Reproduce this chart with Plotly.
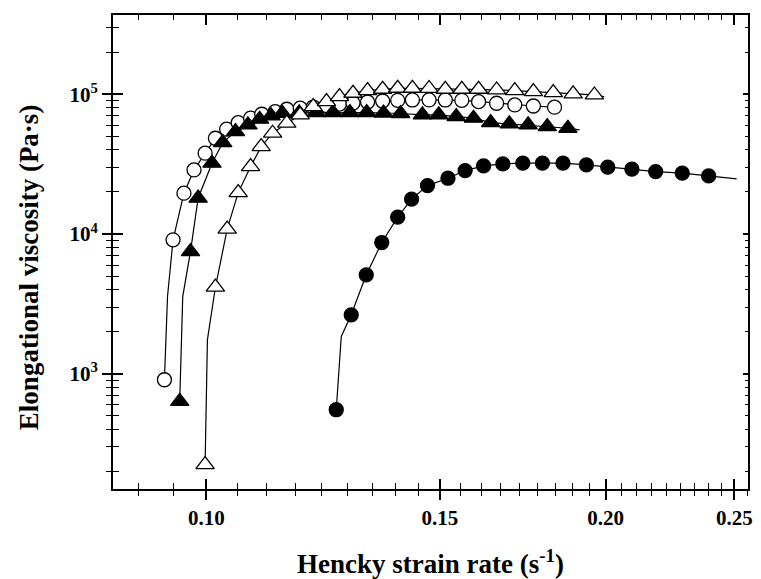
import numpy as np
import plotly.graph_objects as go

# ---------------- data ----------------
# open circles
oc_x = [0.0930, 0.0944, 0.0962, 0.0979, 0.0998, 0.1016, 0.1036, 0.1057, 0.1080, 0.1101,
        0.1127, 0.1150, 0.1177, 0.1204, 0.1232, 0.1260, 0.1290, 0.1323, 0.1358, 0.1394,
        0.1430, 0.1472, 0.1514, 0.1558, 0.1604, 0.1655, 0.1708, 0.1764, 0.1830]
oc_y = [906, 9080, 19600, 28750, 37870, 48450, 56240, 62630, 67390, 71940,
        75080, 78100, 79430, 81000, 83000, 85000, 86500, 88000, 89500, 90500,
        91000, 91050, 91000, 90500, 88540, 86240, 83850, 82400, 80760]
oc_line_extra_x = [0.0935]
oc_line_extra_y = [3570]

# filled triangles
ft_x = [0.0955, 0.0973, 0.0986, 0.1010, 0.1029, 0.1052, 0.1075, 0.1097, 0.1119, 0.1141,
        0.1175, 0.1210, 0.1246, 0.1283, 0.1321, 0.1360, 0.1401, 0.1455, 0.1497, 0.1543,
        0.1590, 0.1638, 0.1692, 0.1748, 0.1807, 0.1873]
ft_y = [634, 7490, 18040, 32110, 45070, 54030, 60320, 66290, 69960, 73100,
        73500, 73800, 74000, 74000, 73800, 73400, 72800, 71120, 71120, 69160,
        67390, 62630, 61310, 60320, 58650, 57120]
ft_line_extra_x = [0.0960, 0.1911]
ft_line_extra_y = [3570, 55560]

# open triangles
ot_x = [0.0998, 0.1016, 0.1037, 0.1057, 0.1080, 0.1100, 0.1122, 0.1150, 0.1177, 0.1204,
        0.1232, 0.1260, 0.1290, 0.1323, 0.1358, 0.1394, 0.1430, 0.1472, 0.1514, 0.1558,
        0.1604, 0.1655, 0.1708, 0.1764, 0.1826, 0.1890, 0.1961]
ot_y = [224, 4169, 10830, 19770, 30360, 42190, 52620, 62040, 71120, 81530,
        88540, 96120, 101670, 106100, 108600, 110400, 110400, 110000, 108600, 108600,
        108600, 107300, 106100, 104400, 102700, 100500, 98850]
ot_line_extra_x = [0.1002, 0.1995]
ot_line_extra_y = [1750, 96000]

# filled circles
fc_x = [0.1253, 0.1286, 0.1320, 0.1356, 0.1394, 0.1428, 0.1468, 0.1521, 0.1567, 0.1618,
        0.1673, 0.1732, 0.1792, 0.1857, 0.1934, 0.2007, 0.2093, 0.2181, 0.2284, 0.2391]
fc_y = [553, 2642, 5105, 8690, 13200, 17770, 22200, 25070, 28430, 30720,
        31740, 32110, 32110, 32110, 31220, 30060, 29080, 27950, 27230, 26040]
fc_line_extra_x = [0.1264, 0.2510]
fc_line_extra_y = [1848, 24790]

x_major = [0.10, 0.15, 0.20, 0.25]
x_major_text = ["0.10", "0.15", "0.20", "0.25"]
y_major = [1e3, 1e4, 1e5]
y_major_text = ["10<sup>3</sup>", "10<sup>4</sup>", "10<sup>5</sup>"]

X_RANGE = [0.08506, 0.2560]
Y_RANGE = [10 ** 2.1755, 10 ** 5.567]

# minor ticks: 8 minor ticks between x majors; 2..9 per decade on y
x_minor = []
step = 0.05 / 9
for k in range(-3, 30):
    v = 0.10 + k * step
    if X_RANGE[0] <= v <= X_RANGE[1] and all(abs(v - m) > 1e-9 for m in x_major):
        x_minor.append(v)
y_minor = [m * 10 ** e for e in range(2, 6) for m in range(2, 10)
           if Y_RANGE[0] <= m * 10 ** e <= Y_RANGE[1]]

FONT = "Liberation Serif"


def merged(xs, ys, ex, ey):
    pts = sorted(zip(list(xs) + list(ex), list(ys) + list(ey)))
    return [p[0] for p in pts], [p[1] for p in pts]


fig = go.Figure()

series = [
    (oc_x, oc_y, oc_line_extra_x, oc_line_extra_y, "circle", "white"),
    (ft_x, ft_y, ft_line_extra_x, ft_line_extra_y, "triangle-up", "black"),
    (fc_x, fc_y, fc_line_extra_x, fc_line_extra_y, "circle", "black"),
    (ot_x, ot_y, ot_line_extra_x, ot_line_extra_y, "triangle-up", "white"),
]

# lines first
for xs, ys, ex, ey, sym, fill in series:
    lx, ly = merged(xs, ys, ex, ey)
    fig.add_trace(go.Scatter(x=lx, y=ly, mode="lines",
                             line=dict(color="black", width=1.2),
                             hoverinfo="skip", showlegend=False))
# markers on top
for xs, ys, ex, ey, sym, fill in series:
    size = 14 if sym == "circle" else 16
    fig.add_trace(go.Scatter(x=xs, y=ys, mode="markers",
                             marker=dict(symbol=sym, size=size, color=fill,
                                         line=dict(color="black", width=1.3)),
                             showlegend=False))

# invisible traces that create the overlay axes (extra tick sets)
fig.add_trace(go.Scatter(x=[0.1], y=[1e3], xaxis="x2", yaxis="y2", mode="markers",
                         marker=dict(opacity=0), hoverinfo="skip", showlegend=False))
fig.add_trace(go.Scatter(x=[0.1], y=[1e3], xaxis="x3", yaxis="y3", mode="markers",
                         marker=dict(opacity=0), hoverinfo="skip", showlegend=False))

xr = [np.log10(X_RANGE[0]), np.log10(X_RANGE[1])]
yr = [np.log10(Y_RANGE[0]), np.log10(Y_RANGE[1])]

tickfont = dict(family=FONT, size=21, color="black", weight="bold")

common_x = dict(type="log", range=xr, tickmode="array", tickvals=x_major,
                showgrid=False, zeroline=False, tickcolor="black", tickwidth=1.5)
common_y = dict(type="log", range=yr, tickmode="array", tickvals=y_major,
                showgrid=False, zeroline=False, tickcolor="black", tickwidth=1.5)


def minor(vals, where, length):
    return dict(tickmode="array", tickvals=vals, ticks=where, ticklen=length,
                tickcolor="black", tickwidth=1.3, showgrid=False)


fig.update_layout(
    width=761, height=579,
    margin=dict(l=113, r=8, t=15, b=90),
    paper_bgcolor="white", plot_bgcolor="white",
    showlegend=False,
    xaxis=dict(**common_x, ticks="inside", ticklen=10, showticklabels=False,
               showline=True, linecolor="black", linewidth=1.8, mirror=True,
               minor=minor(x_minor, "inside", 6)),
    yaxis=dict(**common_y, ticks="inside", ticklen=10, showticklabels=False,
               showline=True, linecolor="black", linewidth=1.8, mirror=True,
               minor=minor(y_minor, "inside", 6)),
    xaxis2=dict(**common_x, overlaying="x", anchor="y2", side="bottom",
                ticks="outside", ticklen=10, ticktext=x_major_text, tickfont=tickfont,
                showline=False, minor=minor(x_minor, "outside", 6)),
    yaxis2=dict(**common_y, overlaying="y", anchor="x2", side="left",
                ticks="outside", ticklen=10, ticktext=y_major_text, tickfont=tickfont,
                showline=False, minor=minor(y_minor, "outside", 6)),
    xaxis3=dict(**common_x, overlaying="x", anchor="y3", side="top",
                ticks="inside", ticklen=10, showticklabels=False, showline=False,
                minor=minor(x_minor, "inside", 5)),
    yaxis3=dict(**common_y, overlaying="y", anchor="x3", side="right",
                ticks="inside", ticklen=5, showticklabels=False, showline=False,
                minor=minor(y_minor, "inside", 3)),
    annotations=[
        dict(text="Hencky strain rate (s<sup>-1</sup>)", xref="paper", yref="paper",
             x=0.5, y=-0.1533, xanchor="center", yanchor="middle", showarrow=False,
             font=dict(family=FONT, size=27, color="black", weight="bold")),
        dict(text="Elongational viscosity (Pa·s)", xref="paper", yref="paper",
             x=-0.1318, y=0.4687, xanchor="center", yanchor="middle", showarrow=False,
             textangle=-90,
             font=dict(family=FONT, size=27, color="black", weight="bold")),
    ],
)

fig.write_html("out.html", config={"displayModeBar": False},
               post_script="document.body.style.margin='0px';")
